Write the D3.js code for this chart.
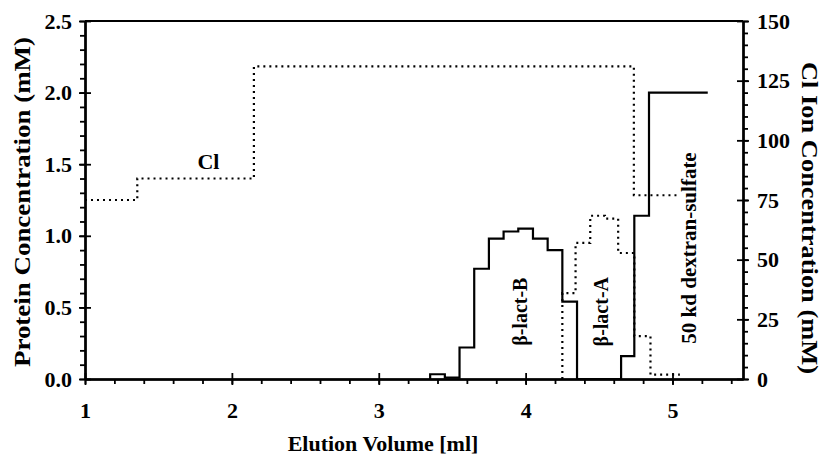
<!DOCTYPE html>
<html><head><meta charset="utf-8">
<script src="https://cdn.jsdelivr.net/npm/d3@7"></script>
<style>
body{margin:0;background:#fff}
text{font-family:"Liberation Serif","Times New Roman",serif;font-weight:bold;fill:#000}
</style>
</head><body>
<svg id="c" width="825" height="461"></svg>
<script>
// ---- data ----
const proteinEdges  = [3.35,3.45,3.55,3.65,3.75,3.85,3.95,4.05,4.15,4.25,4.35,4.65,4.74,4.84,5.24];
const proteinValues = [0.033,0.01,0.22,0.77,0.98,1.03,1.05,0.98,0.90,0.54,0,0.16,1.14,2.0];
const lactAEdges    = [4.25,4.34,4.44,4.54,4.63,4.74,4.85,5.05];
const lactAValues   = [0.60,0.95,1.14,1.12,0.88,0.30,0.03];
const clEdges       = [1.0,1.356,2.15,4.737,5.05];
const clValues      = [75,84,131,77];
const xTicks        = [1,2,3,4,5];
const yLeftTicks    = [0,0.5,1.0,1.5,2.0,2.5];
const yRightTicks   = [0,25,50,75,100,125,150];
const labels = [
  {text:"Cl", x:1.84, y:91, axis:"right", rot:0, size:22},
  {text:"β-lact-B", x:3.96, y:0.47, axis:"left", rot:-90, size:20},
  {text:"β-lact-A", x:4.515, y:0.47, axis:"left", rot:-90, size:20},
  {text:"50 kd dextran-sulfate", x:5.112, y:0.915, axis:"left", rot:-90, size:21}
];

const svg = d3.select("#c");
const L=85, R=743, T=21, B=379;
const x  = d3.scaleLinear().domain([1,5.48]).range([L,R]);
const yL = d3.scaleLinear().domain([0,2.5]).range([B,T]);
const yR = d3.scaleLinear().domain([0,150]).range([B,T]);

function stepPts(edges, vals, rise){
  const p = [];
  if (rise) p.push([edges[0],0]);
  vals.forEach((v,i)=>p.push([edges[i],v]));
  p.push([edges[edges.length-1], vals[vals.length-1]]);
  return p;
}

const lineL = d3.line().x(d=>x(d[0])).y(d=>yL(d[1])).curve(d3.curveStepAfter);
const lineR = d3.line().x(d=>x(d[0])).y(d=>yR(d[1])).curve(d3.curveStepAfter);

svg.append("path").attr("d", lineR(stepPts(clEdges, clValues, false)))
  .attr("fill","none").attr("stroke","#000").attr("stroke-width",2.2).attr("stroke-dasharray","2,4");
svg.append("path").attr("d", lineL(stepPts(lactAEdges, lactAValues, true)))
  .attr("fill","none").attr("stroke","#000").attr("stroke-width",2.2).attr("stroke-dasharray","2,4");
svg.append("path").attr("d", lineL(stepPts(proteinEdges, proteinValues, true)))
  .attr("fill","none").attr("stroke","#000").attr("stroke-width",2.2);

svg.append("line").attr("x1",L).attr("x2",R).attr("y1",T).attr("y2",T)
  .attr("stroke","#000").attr("stroke-width",2);

function styleAxis(g){
  g.selectAll("path").attr("stroke","#000").attr("stroke-width",2);
  g.selectAll("line").attr("stroke","#000").attr("stroke-width",1.8);
  g.selectAll("text").attr("font-size",22).attr("font-family",null);
}
const range = (a,b,s)=>d3.range(Math.round(a/s), Math.round(b/s)+1).map(k=>+(k*s).toFixed(4));

// bottom axis
const xMinor = range(1,5.48,0.2).filter(v=>v<=5.48);
svg.append("g").attr("transform",`translate(0,${B})`)
  .call(d3.axisBottom(x).tickValues(xMinor).tickSize(5).tickFormat("").tickSizeOuter(0)).call(styleAxis);
svg.append("g").attr("transform",`translate(0,${B})`)
  .call(d3.axisTop(x).tickValues(xTicks).tickSize(6).tickFormat("").tickSizeOuter(0)).call(styleAxis);
svg.append("g").attr("transform",`translate(0,${B})`)
  .call(d3.axisBottom(x).tickValues(xTicks).tickSize(6).tickPadding(17).tickFormat(d3.format("d")).tickSizeOuter(0)).call(styleAxis);

// left axis
const yLMinor = range(0,2.5,0.1);
svg.append("g").attr("transform",`translate(${L},0)`)
  .call(d3.axisLeft(yL).tickValues(yLMinor).tickSize(5).tickFormat("").tickSizeOuter(0)).call(styleAxis);
svg.append("g").attr("transform",`translate(${L},0)`)
  .call(d3.axisRight(yL).tickValues(yLeftTicks).tickSize(6).tickFormat("").tickSizeOuter(0)).call(styleAxis);
svg.append("g").attr("transform",`translate(${L},0)`)
  .call(d3.axisLeft(yL).tickValues(yLeftTicks).tickSize(6).tickPadding(7).tickFormat(d3.format(".1f")).tickSizeOuter(0)).call(styleAxis);

// right axis
const yRMinor = range(0,150,5);
svg.append("g").attr("transform",`translate(${R},0)`)
  .call(d3.axisRight(yR).tickValues(yRMinor).tickSize(5).tickFormat("").tickSizeOuter(0)).call(styleAxis);
svg.append("g").attr("transform",`translate(${R},0)`)
  .call(d3.axisLeft(yR).tickValues(yRightTicks).tickSize(6).tickFormat("").tickSizeOuter(0)).call(styleAxis);
svg.append("g").attr("transform",`translate(${R},0)`)
  .call(d3.axisRight(yR).tickValues(yRightTicks).tickSize(6).tickPadding(8).tickFormat(d3.format("d")).tickSizeOuter(0)).call(styleAxis);

// axis titles
svg.append("text").attr("x",383).attr("y",451).attr("text-anchor","middle")
  .attr("font-size",22).text("Elution Volume [ml]");
svg.append("text").attr("transform","translate(30,202) rotate(-90)").attr("text-anchor","middle")
  .attr("font-size",23).attr("textLength",330).attr("lengthAdjust","spacingAndGlyphs")
  .text("Protein Concentration (mM)");
svg.append("text").attr("transform","translate(802,218) rotate(90)").attr("text-anchor","middle")
  .attr("font-size",23).attr("textLength",312).attr("lengthAdjust","spacingAndGlyphs")
  .text("Cl Ion Concentration (mM)");

labels.forEach(l=>{
  const px = x(l.x), py = l.axis==="left" ? yL(l.y) : yR(l.y);
  svg.append("text").attr("transform",`translate(${px},${py}) rotate(${l.rot})`)
    .attr("text-anchor","middle").attr("dominant-baseline","central")
    .attr("font-size",l.size).text(l.text);
});
</script>
</body></html>
